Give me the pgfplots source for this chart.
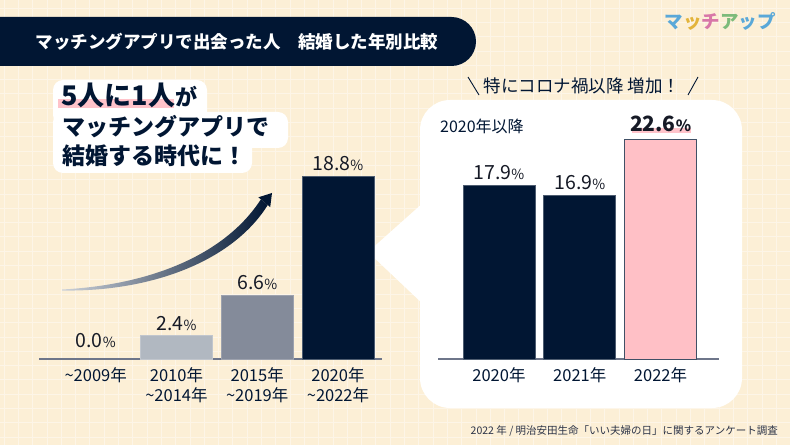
\documentclass[border=0pt]{standalone}
\usepackage{fontspec}
\setmainfont{Noto Sans CJK JP}
\usepackage{pgfplots}
\pgfplotsset{compat=1.18}
\definecolor{bg}{HTML}{FCEFD6}
\definecolor{gridc}{HTML}{FDF5E7}
\definecolor{navy}{HTML}{011633}
\definecolor{grey1}{HTML}{B1B8C1}
\definecolor{grey2}{HTML}{848B9A}
\definecolor{pinkbar}{HTML}{FFC0C6}
\definecolor{hl}{HTML}{FFC3CA}
\definecolor{axisc}{HTML}{6E768A}
\definecolor{logob}{HTML}{5AA8D8}
\definecolor{logoy}{HTML}{E3B43A}
\definecolor{logop}{HTML}{D877A8}
\definecolor{logog}{HTML}{7DBB7A}
\definecolor{srcc}{HTML}{2B3347}
\definecolor{valc}{HTML}{161A26}
\newcommand\fs[1]{\fontsize{#1}{#1}\selectfont}
\begin{document}
\begin{tikzpicture}[x=1pt,y=1pt]
\clip (0,0) rectangle (790,445);
\fill[bg] (0,0) rectangle (790,445);
\foreach \i in {0,...,55} \draw[gridc, line width=0.7pt] ({4+14.3*\i},0) -- ++(0,445);
\foreach \j in {0,...,31} \draw[gridc, line width=0.7pt] (0,{8+14.3*\j}) -- ++(790,0);
% header
\fill[navy, rounded corners=24.5pt] (-40,379) rectangle (476,428);
\node[text=white, font=\fs{17.5}\bfseries] at (237,403) {マッチングアプリで出会った人　結婚した年別比較};
% logo
\node[anchor=base east, font=\fs{18.5}\bfseries, inner sep=0pt] at (776,416) {\textcolor{logob}{マ}\textcolor{logoy}{ッ}\textcolor{logop}{チ}\textcolor{logog}{ア}\textcolor{logob}{ッ}\textcolor{logob}{プ}};
% right white box + pointer
\fill[white, rounded corners=30pt] (420,37) rectangle (742,345);
\fill[white] (368,193) -- (424,243) -- (424,140) -- cycle;
% callout box
\fill[white, rounded corners=10pt] (53,320) rectangle (207,365);
\fill[white, rounded corners=10pt] (53,297) rectangle (288,333);
\fill[white, rounded corners=10pt] (53,272) rectangle (252,320);
\fill[hl] (58,337) rectangle (174,346);
\node[anchor=base west, inner sep=0pt, text=navy] at (61,339) {{\fs{27}\bfseries 5人に1人}{\fs{22}\bfseries が}};
\node[anchor=base west, inner sep=0pt, text=navy, font=\fs{23}\bfseries] at (62,309) {マッチングアプリで};
\node[anchor=base west, inner sep=0pt, text=navy, font=\fs{23}\bfseries] at (62,280) {結婚する時代に！};
% arrow
\shade[left color={rgb,255:red,205;green,210;blue,218}, right color=navy]
  (62,155.5) .. controls (150,160) and (225,190) .. (260.9,245.7)
  -- (267.7,239.9) .. controls (232,183) and (150,153) .. (62,154.5) -- cycle;
\fill[navy] (272,252) -- (258.4,247.7) -- (270.2,237.9) -- cycle;
% right chart texts
\fill[hl] (632,312) rectangle (691,317);
\node[anchor=base west, inner sep=0pt, text=navy, font=\fs{16}] at (440,312) {2020年以降};
\node[text=navy, font=\fs{17.5}, inner sep=0pt] at (582,359) {特にコロナ禍以降 増加！};
\draw[navy, line width=0.9pt] (468,368) -- (479,350);
\draw[navy, line width=0.9pt] (698,368) -- (688,350);
% source
\node[anchor=base east, inner sep=0pt, text=srcc, font=\fs{10.5}] at (778,11) {2022 年 / 明治安田生命「いい夫婦の日」に関するアンケート調査};
% left chart
\begin{axis}[at={(39.2pt,86pt)}, anchor=south west, scale only axis,
  width=343.2pt, height=194pt, xmin=-0.7, xmax=3.55, ymin=0, ymax=20,
  axis x line=bottom, axis y line=none,
  x axis line style={draw=axisc, line width=1.2pt, -},
  xtick={0,1,2,3}, major tick length=0pt,
  xticklabels={{\textasciitilde 2009年},{2010年\\\textasciitilde 2014年},{2015年\\\textasciitilde 2019年},{2020年\\\textasciitilde 2022年}},
  xticklabel style={align=center, font=\fontsize{16.5}{20}\selectfont, text=navy, yshift=-5pt},
  ybar, bar width=72pt, clip=false,
  point meta=explicit symbolic,
  nodes near coords={\pgfplotspointmeta{\fs{14}\%}},
  nodes near coords style={font=\fs{19.5}, text=valc, inner sep=5pt}]
\addplot[bar shift=0pt, draw=none, fill=none, nodes near coords style={yshift=6pt}] coordinates {(0,0) [0.0]};
\addplot[bar shift=0pt, fill=grey1, draw=grey1!80!white, line width=0.8pt] coordinates {(1,2.4) [2.4]};
\addplot[bar shift=0pt, fill=grey2, draw=grey2!80!white, line width=0.8pt] coordinates {(2,6.6) [6.6]};
\addplot[bar shift=0pt, fill=navy, draw=navy!70!white, line width=0.8pt] coordinates {(3,18.8) [18.8]};
\end{axis}
% right chart
\begin{axis}[at={(438pt,86pt)}, anchor=south west, scale only axis,
  width=281pt, height=242.5pt, xmin=-0.755, xmax=2.724, ymin=0, ymax=25,
  axis x line=bottom, axis y line=none,
  x axis line style={draw=axisc, line width=1.2pt, -},
  xtick={0,1,2}, major tick length=0pt,
  xticklabels={2020年,2021年,2022年},
  xticklabel style={font=\fs{16.5}, text=navy, yshift=-5pt},
  ybar, bar width=72pt, clip=false,
  point meta=explicit symbolic,
  nodes near coords={\pgfplotspointmeta{\fs{14}\%}},
  nodes near coords style={font=\fs{19.5}, text=valc, inner sep=5pt}]
\addplot[bar shift=0pt, fill=navy, draw=navy!70!white, line width=0.8pt] coordinates {(0,17.9) [17.9]};
\addplot[bar shift=0pt, fill=navy, draw=navy!70!white, line width=0.8pt] coordinates {(1,16.9) [16.9]};
\addplot[bar shift=0pt, fill=pinkbar, draw=navy!75!white, line width=1pt,
  nodes near coords={\pgfplotspointmeta{\fs{15.5}\%}},
  nodes near coords style={font=\fs{21}\bfseries, inner sep=7.5pt}] coordinates {(2,22.6) [22.6]};
\end{axis}
\end{tikzpicture}
\end{document}
